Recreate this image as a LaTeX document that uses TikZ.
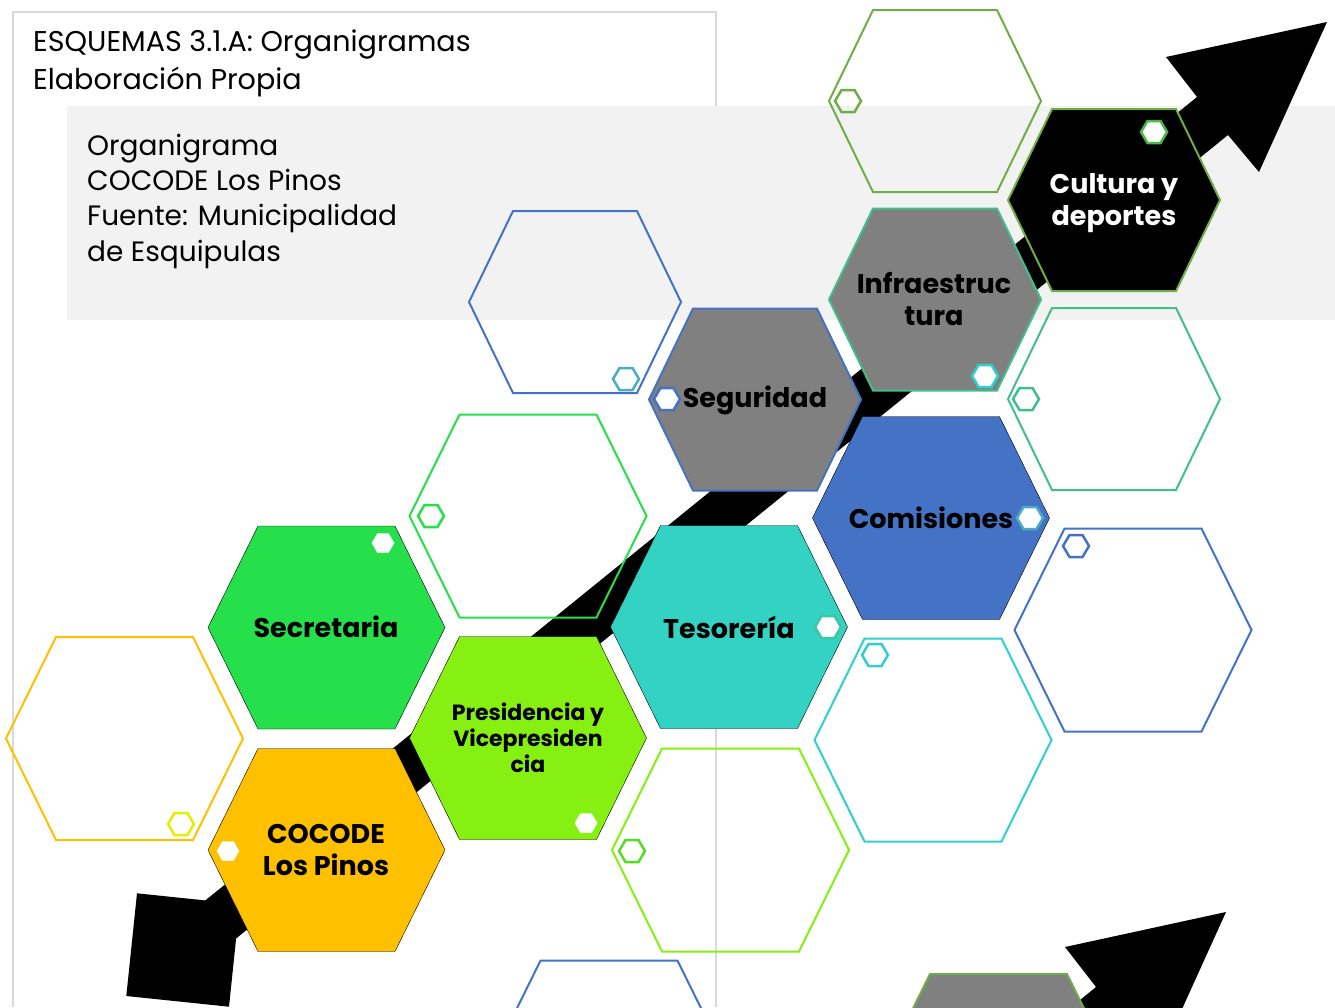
\documentclass[tikz,border=0pt]{standalone}
\usepackage{fontspec}
\setmainfont{Poppins}
\definecolor{framecol}{HTML}{D9D9D9}
\definecolor{bandcol}{HTML}{F2F2F2}
\definecolor{orangeh}{HTML}{FFC000}
\definecolor{greenh}{HTML}{25E04B}
\definecolor{limeh}{HTML}{86F013}
\definecolor{tealh}{HTML}{33D2C3}
\definecolor{blueh}{HTML}{4472C4}
\definecolor{grayh}{HTML}{808080}
\definecolor{olivegr}{HTML}{70AD47}
\definecolor{seagr}{HTML}{40BF8C}
\definecolor{cyanh}{HTML}{2FD0CC}
\definecolor{skyh}{HTML}{4BACC6}
\definecolor{yellowh}{HTML}{E2F000}
\definecolor{brightgr}{HTML}{55DD22}
\definecolor{leafgr}{HTML}{4CB848}
% hexagon: [options]{cx}{cy}{W}{H}{inset}
\newcommand\hexd[6][]{%
  \draw[#1] ({#2-#4/2},{#3}) -- ({#2-#4/2+#6},{#3-#5/2}) -- ({#2+#4/2-#6},{#3-#5/2})
    -- ({#2+#4/2},{#3}) -- ({#2+#4/2-#6},{#3+#5/2}) -- ({#2-#4/2+#6},{#3+#5/2}) -- cycle;}
\newcommand\bighex[3][]{\hexd[#1]{#2}{#3}{237}{203}{50}}
\newcommand\midhex[3][]{\hexd[#1]{#2}{#3}{212}{182}{44}}
\newcommand\smallhex[3][]{\hexd[#1]{#2}{#3}{26}{22}{6.5}}
\tikzset{
  outl/.style={line width=2pt, line join=miter},
  smallout/.style={line width=2.5pt, line join=miter},
  smallwhite/.style={fill=white, line width=2.5pt, line join=miter},
  plaintext/.style={inner sep=0pt, anchor=base west, font=\fontsize{28}{32}\selectfont},
  titletext/.style={plaintext, font=\fontsize{28.6}{32}\selectfont},
  lbl/.style={inner sep=0pt, align=center, font=\fontsize{27}{32}\selectfont\bfseries},
}
\begin{document}
\begin{tikzpicture}[x=1pt,y=-1pt]
\useasboundingbox (0,0) rectangle (1335,1007);
\clip (0,0) rectangle (1335,1007);
\fill[white] (0,0) rectangle (1335,1007);
% frame and band
\draw[framecol, line width=1.3pt] (13,1007) -- (13,12) -- (716,12) -- (716,1007);
\fill[bandcol] (67,106) rectangle (1335,320);
% texts
\node[titletext] (t1) at (33,51) {ESQUEMAS 3.1.A: Organigramas};
\node[titletext] (t2) at (33,89) {Elaboración Propia};
\node[plaintext] (b1) at (87,155) {Organigrama};
\node[plaintext] (b2) at (87,190) {COCODE Los Pinos};
\node[plaintext] (b3) at (87,225) {Fuente: Municipalidad};
\node[plaintext] (b4) at (87,261) {de Esquipulas};
% big arrow
\fill[black] (167.6,931) -- (1197,97) -- (1166,57) -- (1327,22) -- (1259,172) -- (1228,135) -- (198.4,969) -- cycle;
\fill[black] (239.7,904) -- (229,1006.7) -- (126.3,996) -- (137,893.3) -- cycle;
% lower arrow
\fill[black] (863,1176) -- (1096,987) -- (1065,947) -- (1226,912) -- (1158,1062) -- (1127,1025) -- (894,1214) -- cycle;
% outline hexagons
\midhex[outl, olivegr]{935}{101}
\smallhex[smallout, olivegr]{848}{101}
\midhex[outl, blueh]{575}{302}
\smallhex[smallout, skyh]{626}{379}
\bighex[outl, greenh]{528}{516}
\smallhex[smallout, greenh]{431}{516}
\bighex[outl, orangeh]{124.5}{738.5}
\smallhex[smallout, yellowh]{181}{824}
\bighex[outl, limeh]{730.5}{850}
\smallhex[smallout, brightgr]{632}{851}
\bighex[outl, cyanh]{933}{740}
\smallhex[smallout, cyanh]{875}{655}
\bighex[outl, blueh]{1133}{630}
\smallhex[smallout, blueh]{1076}{546}
\midhex[outl, seagr]{1114}{399}
\smallhex[smallout, seagr]{1026}{399}
\bighex[outl, blueh]{609}{1062}
% filled hexagons
\bighex[fill=grayh, draw=olivegr, outl]{998.5}{1075.5}
\bighex[fill=orangeh]{326.5}{850}
\bighex[fill=greenh]{326.5}{627.5}
\bighex[fill=limeh]{528}{738}
\bighex[fill=tealh]{729}{627}
\bighex[fill=blueh]{931}{518}
\midhex[fill=grayh, draw=blueh, outl]{755}{399.5}
\midhex[fill=grayh, draw=seagr, outl]{935}{299.5}
\midhex[fill=black, draw=olivegr, outl]{1114}{200}
% small white hexagons
\smallhex[smallwhite, draw=greenh]{383}{543}
\smallhex[smallwhite, draw=orangeh]{228}{851}
\smallhex[smallwhite, draw=limeh]{586}{823}
\smallhex[smallwhite, draw=seagr!60!tealh]{828}{627}
\smallhex[smallwhite, draw=skyh]{1030}{518}
\smallhex[smallwhite, draw=blueh]{667}{399}
\smallhex[smallwhite, draw=cyanh]{985}{376}
\smallhex[smallwhite, draw=leafgr]{1154}{132}
% labels
\node[lbl] (cocode) at (326,850) {COCODE\\Los Pinos};
\node[lbl] (secre) at (326,627) {Secretaria};
\node[lbl, font=\fontsize{22}{26}\selectfont\bfseries] (presi) at (528,738) {Presidencia y\\Vicepresiden\\cia};
\node[lbl] (teso) at (729,627) {Tesorería};
\node[lbl] (comi) at (931,518) {Comisiones};
\node[lbl] (segu) at (755,400.5) {Seguridad};
\node[lbl] (infra) at (934,299) {Infraestruc\\tura};
\node[lbl, text=white] (cult) at (1114,203) {Cultura y\\deportes};
\end{tikzpicture}
\end{document}
